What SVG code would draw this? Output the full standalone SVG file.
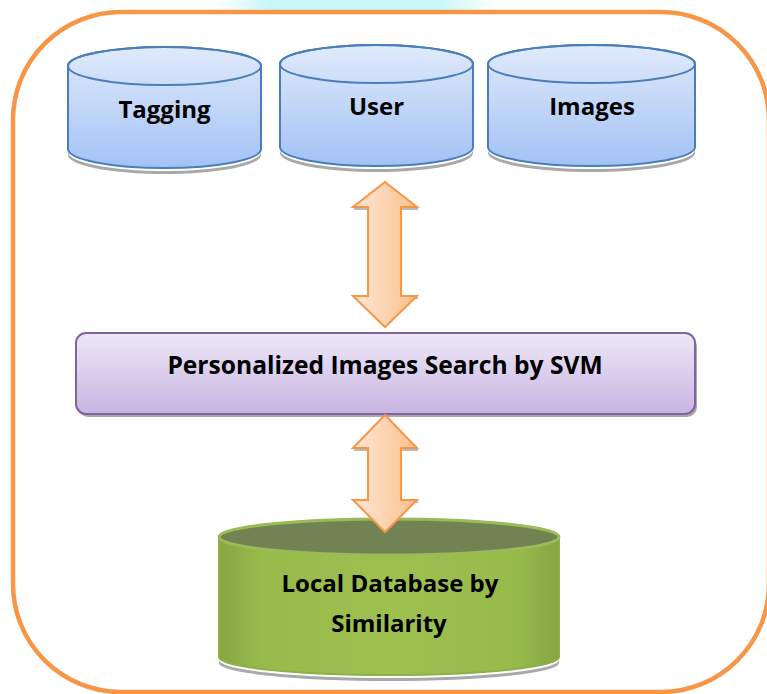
<svg xmlns="http://www.w3.org/2000/svg" width="767" height="694" viewBox="0 0 767 694">
<defs>
<linearGradient id="blueG" x1="0" y1="0" x2="0" y2="1">
<stop offset="0" stop-color="#E0EAFB"/>
<stop offset="1" stop-color="#A3C2F5"/>
</linearGradient>
<linearGradient id="purpG" x1="0" y1="0" x2="0" y2="1">
<stop offset="0" stop-color="#EEE8F7"/>
<stop offset="1" stop-color="#C8B4E2"/>
</linearGradient>
<linearGradient id="greenG" x1="0" y1="0" x2="1" y2="0">
<stop offset="0" stop-color="#86A642"/>
<stop offset="0.12" stop-color="#97BA4B"/>
<stop offset="0.5" stop-color="#9DC04F"/>
<stop offset="0.88" stop-color="#97BA4B"/>
<stop offset="1" stop-color="#86A642"/>
</linearGradient>
<linearGradient id="arrowG" x1="0" y1="0" x2="1" y2="0">
<stop offset="0" stop-color="#FEE8D6"/>
<stop offset="1" stop-color="#FBBF8C"/>
</linearGradient>
<linearGradient id="cyanG" x1="0" y1="0" x2="1" y2="0">
<stop offset="0" stop-color="#FFFFFF"/>
<stop offset="0.2" stop-color="#C8F6FB"/>
<stop offset="0.8" stop-color="#C8F6FB"/>
<stop offset="1" stop-color="#FFFFFF"/>
</linearGradient>
<style>
.cyl{fill:url(#blueG);stroke:#4A7EBB;stroke-width:2}
.cap{fill:none;stroke:#4A7EBB;stroke-width:2}
.shadow{fill:#8C8C8C;opacity:0.75}
.lbl{font-family:"Open Sans","Liberation Sans",sans-serif;font-weight:bold;font-size:24px;fill:#000;text-anchor:middle}
.arrow{fill:url(#arrowG);stroke:#F79646;stroke-width:2;stroke-linejoin:miter}
</style>
</defs>
<rect x="0" y="0" width="767" height="694" fill="#FFFFFF"/>
<rect x="215" y="0" width="280" height="10" fill="url(#cyanG)"/>
<rect id="frame" x="13" y="12" width="756" height="680" rx="108" ry="108" fill="none" stroke="#F79646" stroke-width="4.5"/>

<g id="tagging">
<path class="shadow" d="M68,152 A96.5,19 0 0 0 261,152 L261,155 A96.5,19 0 0 1 68,155 Z"/>
<path class="cyl" d="M68,66 L68,149 A96.5,19 0 0 0 261,149 L261,66 A96.5,19 0 0 0 68,66 Z"/>
<ellipse class="cap" cx="164.5" cy="66" rx="96.5" ry="19"/>
<text class="lbl" x="164.5" y="118">Tagging</text>
</g>

<g id="user">
<path class="shadow" d="M280,150 A96.5,19 0 0 0 473,150 L473,153 A96.5,19 0 0 1 280,153 Z"/>
<path class="cyl" d="M280,64 L280,147 A96.5,19 0 0 0 473,147 L473,64 A96.5,19 0 0 0 280,64 Z"/>
<ellipse class="cap" cx="376.5" cy="64" rx="96.5" ry="19"/>
<text class="lbl" x="376.5" y="115">User</text>
</g>

<g id="images">
<path class="shadow" d="M488,150 A103.5,19 0 0 0 695,150 L695,153 A103.5,19 0 0 1 488,153 Z"/>
<path class="cyl" d="M488,64 L488,147 A103.5,19 0 0 0 695,147 L695,64 A103.5,19 0 0 0 488,64 Z"/>
<ellipse class="cap" cx="591.5" cy="64" rx="103.5" ry="19"/>
<text class="lbl" x="592" y="115">Images</text>
</g>

<g id="svm">
<rect x="78" y="336" width="619" height="81" rx="10" ry="10" fill="#8C8C8C" opacity="0.75"/>
<rect x="76" y="333" width="619" height="81" rx="10" ry="10" fill="url(#purpG)" stroke="#8064A2" stroke-width="2"/>
<text class="lbl" x="385" y="374" style="font-size:24.6px">Personalized Images Search by SVM</text>
</g>

<g id="localdb">
<path class="shadow" d="M219,660 A170,18 0 0 0 559,660 L559,663 A170,18 0 0 1 219,663 Z"/>
<path d="M219,537 L219,657 A170,18 0 0 0 559,657 L559,537 A170,18 0 0 0 219,537 Z" fill="url(#greenG)" stroke="#8DB04A" stroke-width="2"/>
<ellipse cx="389" cy="537" rx="170" ry="18" fill="#728353" stroke="#9BBB59" stroke-width="3"/>
<text class="lbl" x="390" y="592">Local Database by</text>
<text class="lbl" x="389" y="632">Similarity</text>
</g>

<g id="connectors">
<path d="M354,209 L418,209 M354,298 L418,298" stroke="#8C8C8C" stroke-width="2" opacity="0.6" fill="none"/>
<path class="arrow" d="M385,182 L417,207 L401,207 L401,296 L417,296 L385,327 L353,296 L368,296 L368,207 L353,207 Z"/>
<path d="M354,450 L418,450 M354,502 L418,502" stroke="#8C8C8C" stroke-width="2" opacity="0.6" fill="none"/>
<path class="arrow" d="M385,415 L417,448 L401,448 L401,500 L417,500 L385,532 L353,500 L368,500 L368,448 L353,448 Z"/>
</g>
</svg>
